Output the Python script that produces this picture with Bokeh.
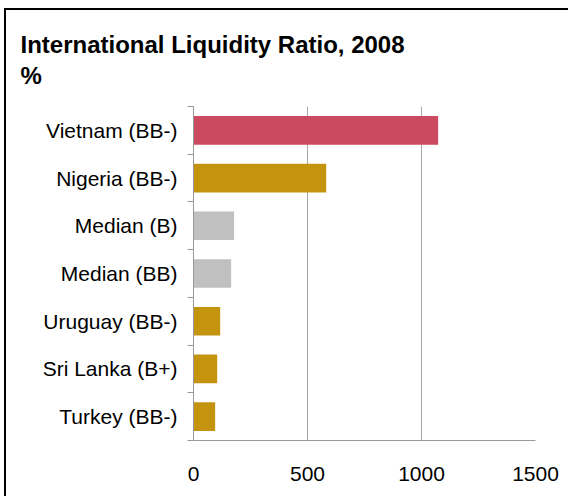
from bokeh.plotting import figure
from bokeh.models import Range1d, FixedTicker
from bokeh.embed import file_html
from bokeh.resources import INLINE

categories = ["Vietnam (BB-)", "Nigeria (BB-)", "Median (B)", "Median (BB)",
              "Uruguay (BB-)", "Sri Lanka (B+)", "Turkey (BB-)"]
values = [1073, 582, 178, 165, 117, 104, 95]
bar_colors = ["#CC4A5F", "#C4940E", "#C0C0C0", "#C0C0C0", "#C4940E", "#C4940E", "#C4940E"]
x_ticks = [0, 500, 1000, 1500]
title_text = "International Liquidity Ratio, 2008\n%"

FONT = "Liberation Sans"
n = len(categories)
centers = [i + 0.5 for i in range(n)]

p = figure(width=564, height=488, output_backend="svg", toolbar_location=None,
           x_range=Range1d(0, 1500), y_range=Range1d(n, 0),
           min_border_left=187, min_border_right=35, min_border_top=96, min_border_bottom=58,
           title=title_text,
           styles={"position": "absolute", "left": "4px", "top": "8px",
                   "border-left": "2px solid black", "border-top": "2px solid black"})
p.outline_line_color = None
p.background_fill_color = "white"
p.border_fill_color = "white"

p.title.text_font = FONT
p.title.text_font_size = "24px"
p.title.text_font_style = "bold"
p.title.text_color = "black"
p.title.text_line_height = 1.15
p.title.offset = -173
p.title.standoff = 35

p.hbar(y=centers, left=0, right=values, height=0.6, fill_color=bar_colors, line_color=None)

# x axis
p.xaxis.ticker = FixedTicker(ticks=x_ticks)
p.xaxis.axis_line_color = "#999999"
p.xaxis.axis_line_width = 1
p.xaxis.major_tick_line_color = None
p.xaxis.minor_tick_line_color = None
p.xaxis.major_tick_out = 0
p.xaxis.major_tick_in = 0
p.xaxis.major_label_standoff = 26
p.xaxis.major_label_text_font = FONT
p.xaxis.major_label_text_font_size = "21px"
p.xaxis.major_label_text_color = "black"

# y axis
p.yaxis.ticker = FixedTicker(ticks=centers, minor_ticks=list(range(n + 1)))
p.yaxis.major_label_overrides = {c: lab for c, lab in zip(centers, categories)}
p.yaxis.axis_line_color = "#999999"
p.yaxis.major_tick_line_color = None
p.yaxis.major_tick_out = 0
p.yaxis.major_tick_in = 0
p.yaxis.minor_tick_line_color = "#999999"
p.yaxis.minor_tick_out = 6
p.yaxis.minor_tick_in = 0
p.yaxis.major_label_standoff = 10
p.yaxis.major_label_text_font = FONT
p.yaxis.major_label_text_font_size = "21px"
p.yaxis.major_label_text_color = "black"

p.xgrid.ticker = FixedTicker(ticks=x_ticks)
p.xgrid.grid_line_color = "#A6A6A6"
p.ygrid.grid_line_color = None

open("out.html", "w").write(file_html(p, INLINE))
